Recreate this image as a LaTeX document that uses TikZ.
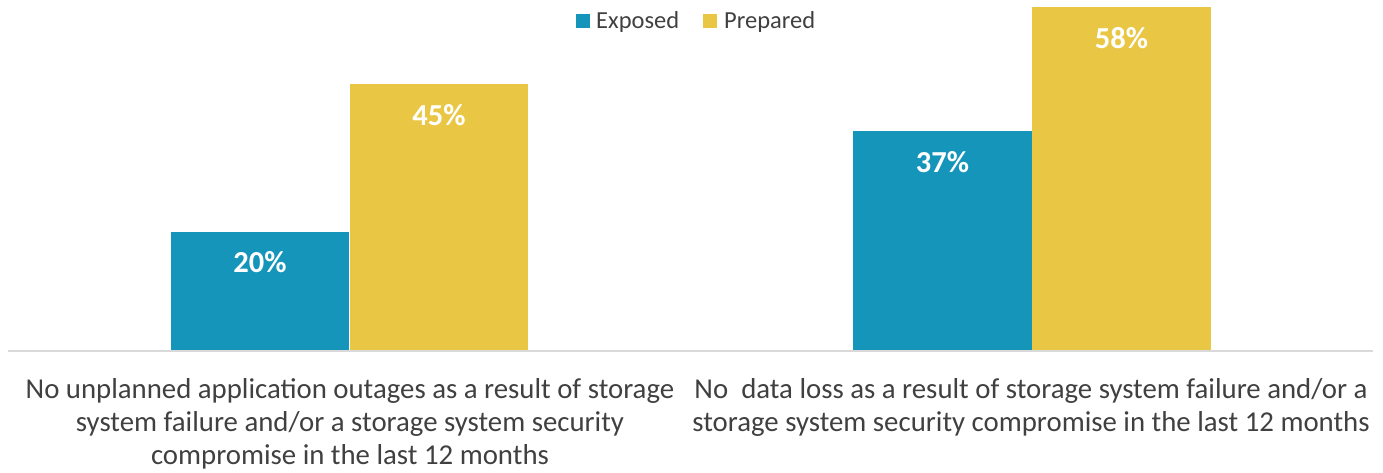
\documentclass[tikz,border=0pt]{standalone}
\usepackage{fontspec}
\setmainfont{Carlito}
\definecolor{expblue}{HTML}{1695BA}
\definecolor{prepyellow}{HTML}{E9C744}
\definecolor{labelgrey}{HTML}{404040}
\definecolor{axisgrey}{HTML}{D9D9D9}
\begin{document}
\begin{tikzpicture}[x=1pt,y=-1pt,
  bar/.style={inner sep=0pt, outer sep=0pt, minimum width=178.5pt, anchor=south},
  exposed/.style={bar, fill=expblue},
  prepared/.style={bar, fill=prepyellow},
  val/.style={text=white, font=\fontsize{30.5}{33}\selectfont\bfseries, anchor=center},
  legbox/.style={inner sep=0pt, minimum size=14pt},
  legtext/.style={text=labelgrey, font=\fontsize{24.5}{28}\selectfont, anchor=west, inner sep=0pt},
  cat/.style={text=labelgrey, font=\fontsize{28.8}{33}\selectfont, align=center, anchor=base, inner sep=0pt}]
  \useasboundingbox (0,0) rectangle (1383,473);

  % bars (1 percent = 5.9pt)
  \node[exposed,  minimum height=118pt] (e1) at (260,349.5) {};
  \node[prepared, minimum height=265.5pt] (p1) at (439,349.5) {};
  \node[exposed,  minimum height=218.3pt] (e2) at (942.5,349.5) {};
  \node[prepared, minimum height=342.2pt] (p2) at (1121.5,349.5) {};

  % value labels
  \node[val] (ve1) at ([yshift=-31pt]e1.north) {20\%};
  \node[val] (vp1) at ([yshift=-31pt]p1.north) {45\%};
  \node[val] (ve2) at ([yshift=-31pt]e2.north) {37\%};
  \node[val] (vp2) at ([yshift=-31pt]p2.north) {58\%};

  % category axis
  \coordinate (axl) at (8,350.7);
  \coordinate (axr) at (1373,350.7);
  \draw[axisgrey, line width=2pt] (axl) -- (axr);

  % legend
  \node[legbox, fill=expblue] (lb1) at (583,21.5) {};
  \node[legtext] (lt1) at (596,21.5) {Exposed};
  \node[legbox, fill=prepyellow] (lb2) at (710,21.5) {};
  \node[legtext] (lt2) at (724,21.5) {Prepared};

  % category labels (anchored at the baseline of the last line)
  \node[cat] (c1) at (350,464) {No unplanned application outages as a result of storage\\
    system failure and/or a storage system security\\ compromise in the last 12 months};
  \node[cat] (c2) at (1031,431) {No\ \ data loss as a result of storage system failure and/or a\\
    storage system security compromise in the last 12 months};
\end{tikzpicture}
\end{document}
